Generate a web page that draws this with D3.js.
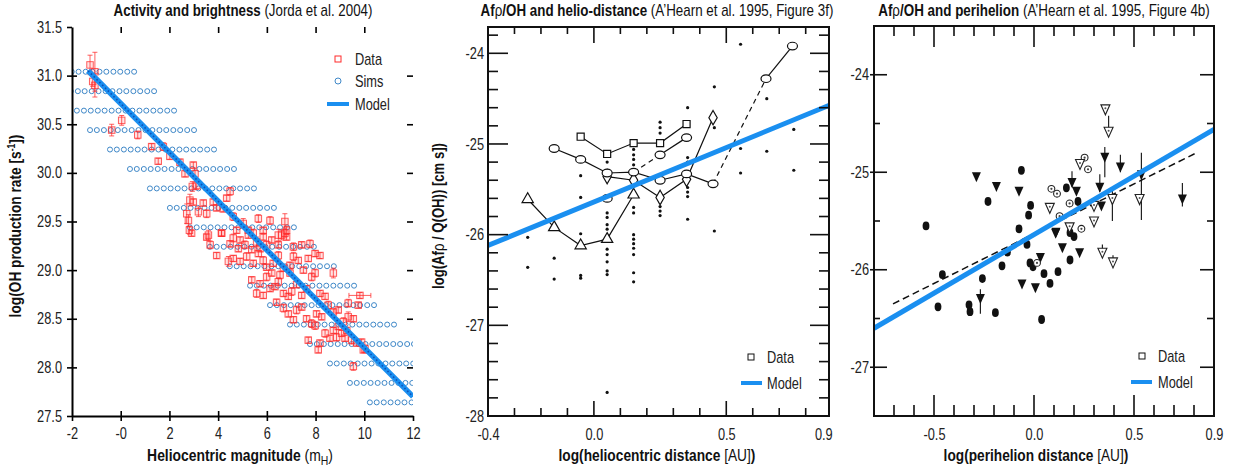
<!DOCTYPE html>
<html>
<head>
<meta charset="utf-8">
<script src="https://cdn.jsdelivr.net/npm/d3@7"></script>
<style>
  body { margin: 0; background: #fff; }
  svg { display: block; font-family: "Liberation Sans", Arial, sans-serif; }
  .tick text { font-size: 16px; fill: #222; }
</style>
</head>
<body>
<svg id="fig" width="1239" height="471"></svg>
<script>
// ---------------- Panel 1: OH production vs heliocentric magnitude ----------------
const magTicks = [-2, 0, 2, 4, 6, 8, 10, 12];
const logQTicks = [27.5, 28.0, 28.5, 29.0, 29.5, 30.0, 30.5, 31.0, 31.5];

// simulated grid: one row per log Q level, first magnitude of each row
const simLogQ = [31.04, 30.84, 30.64, 30.44, 30.24, 30.04, 29.84, 29.64, 29.44,
                 29.24, 29.04, 28.84, 28.64, 28.44, 28.24, 28.04, 27.84, 27.64];
const simStartMag = [-3.72, -2.90, -2.08, -1.26, -0.44, 0.38, 1.20, 2.02, 2.84,
                     3.66, 4.48, 5.31, 6.13, 6.95, 7.77, 8.59, 9.41, 10.23];
const simOffsets = [0, 0.28, 0.57, 0.85, 1.14, 1.42, 1.71, 1.99, 2.28, 2.56,
                    2.85, 3.13, 3.42, 3.70, 3.99, 4.27];

// observed comets: [magnitude, log Q(OH), error]
const ohData = [
  [-1.26,31.11,0.10],[-1.06,31.04,0.20],[-1.15,30.94,0.05],[-1.06,30.90,0.12],
  [-0.37,30.44,0.06],[0.04,30.54,0.05],[0.70,30.39,0.04],[1.27,30.27,0.03],
  [1.75,30.27,0.04],[1.54,30.12,0.03],[2.02,30.17,0.03],[2.43,30.11,0.03],
  [2.98,30.08,0.03],[3.05,29.99,0.04],[2.64,29.99,0.03],[2.94,29.86,0.05],
  [3.12,29.87,0.04],[2.84,29.72,0.06],[2.98,29.70,0.03],[3.39,29.69,0.03],
  [3.80,29.70,0.03],[4.49,29.81,0.04],[4.35,29.74,0.03],[3.53,29.58,0.04],
  [3.19,29.60,0.05],[2.71,29.58,0.10],[2.78,29.51,0.06],[3.94,29.64,0.03],
  [4.21,29.63,0.03],[4.62,29.55,0.04],[5.03,29.48,0.05],[5.24,29.41,0.03],
  [5.65,29.53,0.04],[6.13,29.51,0.04],[6.74,29.50,0.08],[6.81,29.41,0.04],
  [3.60,29.36,0.05],[4.14,29.38,0.03],[4.76,29.41,0.03],[5.44,29.38,0.04],
  [5.85,29.41,0.03],[6.47,29.36,0.06],
  [2.82,29.41,0.04],[2.91,29.38,0.03],[3.53,29.34,0.03],[3.67,29.26,0.04],
  [3.94,29.15,0.03],[4.14,29.38,0.03],[4.49,29.27,0.03],[4.62,29.33,0.04],
  [4.83,29.22,0.03],[4.90,29.31,0.03],[5.10,29.26,0.04],[5.24,29.36,0.03],
  [5.38,29.21,0.03],[5.58,29.29,0.05],[5.72,29.22,0.03],[5.85,29.34,0.03],
  [5.99,29.26,0.04],[6.20,29.31,0.03],[6.47,29.26,0.03],[6.61,29.36,0.05],
  [6.81,29.34,0.03],[7.09,29.24,0.04],[7.43,29.26,0.03],[7.77,29.27,0.04],
  [7.98,29.17,0.03],[8.18,29.15,0.03],[6.74,29.38,0.04],[4.42,29.09,0.05],
  [4.62,29.12,0.03],[4.90,29.09,0.03],[5.17,29.14,0.04],[5.44,29.07,0.03],
  [5.65,29.17,0.03],[5.85,29.10,0.04],[5.99,29.03,0.03],[6.26,29.07,0.03],
  [6.47,29.15,0.04],[6.68,29.02,0.03],[6.95,29.05,0.03],[7.09,29.14,0.04],
  [7.29,29.10,0.03],[7.50,29.00,0.03],[7.70,29.12,0.03],[7.98,28.97,0.04],
  [8.73,28.97,0.05],[5.38,28.90,0.03],[5.58,28.76,0.04],[5.72,28.86,0.03],
  [5.85,28.74,0.03],[5.99,28.93,0.04],[6.20,28.97,0.03],[6.33,28.83,0.03],
  [6.47,28.88,0.04],[6.68,28.76,0.03],[6.88,28.73,0.03],[7.02,28.78,0.04],
  [7.22,28.85,0.03],[7.43,28.74,0.03],[7.63,28.81,0.03],[7.84,28.93,0.04],
  [8.18,28.76,0.03],[8.39,28.73,0.03],[9.82,28.74,0.03],[6.95,28.97,0.03],
  [6.54,28.95,0.04],[6.13,28.81,0.03],[6.40,28.67,0.03],[6.68,28.61,0.04],
  [6.88,28.55,0.03],[7.09,28.49,0.03],[7.22,28.59,0.04],[7.43,28.62,0.03],
  [7.63,28.50,0.03],[7.84,28.45,0.04],[8.04,28.55,0.03],[8.25,28.52,0.03],
  [8.52,28.64,0.04],[8.73,28.57,0.03],[8.93,28.59,0.03],[9.14,28.47,0.04],
  [9.34,28.52,0.05],[9.55,28.50,0.03],[9.75,28.64,0.03],[9.34,28.66,0.04],
  [7.70,28.28,0.03],[7.98,28.43,0.04],[8.11,28.18,0.03],[8.18,28.25,0.03],
  [8.39,28.35,0.04],[8.59,28.30,0.03],[8.73,28.38,0.03],[8.86,28.31,0.04],
  [9.07,28.35,0.03],[9.28,28.38,0.03],[9.48,28.28,0.04],[9.69,28.25,0.03],
  [9.89,28.26,0.03],[10.03,28.19,0.04],[8.93,28.42,0.03],[9.21,28.30,0.03],
  [9.55,28.01,0.04],[9.96,28.18,0.03]
];
// points with a horizontal (magnitude) error bar: [magnitude, log Q, error]
const ohMagErr = [[9.82, 28.74, 0.45]];

const model1Mag = [-1.34, 12];
const model1LogQ = [31.05, 27.70];

// ---------------- Panel 2: Afrho/OH vs heliocentric distance ----------------
const rhLabelTicks = [-0.4, 0.0, 0.5, 0.9];
const rhMajor = [0.0, 0.5];
const rhMinor = [-0.3, -0.2, -0.1, 0.1, 0.2, 0.3, 0.4, 0.6, 0.7, 0.8];
const ratioTicks = [-24, -25, -26, -27, -28];
const ratioMinor = [-23.8, -24.2, -24.4, -24.6, -24.8, -25.2, -25.4, -25.6, -25.8,
                    -26.2, -26.4, -26.6, -26.8, -27.2, -27.4, -27.6, -27.8];

const sqRh = [-0.05, 0.05, 0.15, 0.25, 0.35];
const sqRatio = [-24.92, -25.11, -24.99, -24.99, -24.78];
const ringRh = [-0.15, -0.05, 0.05, 0.15, 0.25, 0.35, 0.45];
const ringRatio = [-25.05, -25.17, -25.32, -25.31, -25.40, -25.33, -25.44];
const ring2Rh = [0.15, 0.25, 0.35];
const ring2Ratio = [-25.31, -25.12, -24.93];
const ring3Rh = [0.45, 0.65, 0.75];
const ring3Ratio = [-25.44, -24.28, -23.92];
const loneRingRh = [0.05];
const loneRingRatio = [-25.60];
const diaRh = [0.05, 0.15, 0.25, 0.35, 0.45];
const diaRatio = [-25.36, -25.40, -25.59, -25.39, -24.71];
const triRh = [-0.25, -0.15, -0.05, 0.05, 0.15];
const triRatio = [-25.61, -25.92, -26.12, -26.05, -25.56];
// individual measurements
const dotRh = [0.554,0.455,0.354,0.653,0.455,0.755,0.653,0.554,0.554,0.755,
  0.25,0.25,0.25,0.354,0.354,0.15,0.15,0.15,0.15,0.05,
  -0.05,-0.05,-0.05,0.05,0.05,0.05,0.05,0.15,0.15,0.25,
  0.25,0.25,0.25,0.354,0.354,0.354,0.354,0.455,-0.25,-0.25,
  -0.15,-0.15,-0.05,-0.05,0.05,0.05,0.05,0.05,0.05,0.15,
  0.15,0.15,0.15,0.15,0.15,0.15,0.05];
const dotRatio = [-23.90,-24.37,-24.60,-24.50,-24.82,-24.84,-25.08,-25.05,-25.32,-25.29,
  -24.76,-24.82,-24.88,-25.15,-25.20,-25.06,-25.12,-25.17,-25.23,-25.20,
  -25.35,-25.59,-25.99,-25.76,-25.81,-25.89,-25.94,-25.70,-25.76,-25.64,
  -25.69,-25.74,-25.79,-25.48,-25.53,-25.58,-25.83,-25.96,-26.03,-26.36,
  -26.26,-26.49,-26.45,-26.48,-26.16,-26.22,-26.30,-26.40,-26.44,-26.00,
  -26.05,-26.10,-26.15,-26.22,-26.42,-26.52,-27.74];
const model2Rh = [-0.4, 0.9];
const model2Ratio = [-26.12, -24.56];

// ---------------- Panel 3: Afrho/OH vs perihelion distance ----------------
const qLabelTicks = [-0.5, 0.0, 0.5, 0.9];
const qMajor = [-0.5, 0.0, 0.5];
const qMinor = [-0.7, -0.6, -0.4, -0.3, -0.2, -0.1, 0.1, 0.2, 0.3, 0.4, 0.6, 0.7, 0.8];
const q3Ticks = [-24, -25, -26, -27];
const q3Minor = [-24.5, -25.5, -26.5];

const fillDotQ = [-0.54,-0.063,-0.23,-0.017,-0.027,-0.075,0.162,0.22,0.18,0.20,
  -0.458,-0.48,-0.325,-0.32,-0.193,-0.258,-0.16,-0.133,-0.035,-0.02,
  -0.005,0.05,0.08,0.12,0.18,0.038];
const fillDotRatio = [-25.55,-24.98,-25.30,-25.34,-25.44,-25.58,-25.16,-25.30,-25.62,-25.66,
  -26.05,-26.38,-26.36,-26.43,-26.44,-26.09,-25.96,-25.82,-25.74,-25.93,
  -25.97,-26.04,-26.14,-26.02,-25.90,-26.51];
const fillTriQ = [-0.288,-0.188,-0.075,0.19,0.212,0.354,0.432,0.329,0.337,0.108,
  0.742,0.537,-0.268,-0.06,0.007,0.032,0.142,0.228,0.11];
const fillTriRatio = [-25.05,-25.15,-25.20,-25.11,-25.20,-24.85,-24.95,-25.16,-25.35,-25.63,
  -25.28,-25.03,-26.30,-26.15,-26.19,-25.88,-25.78,-25.83,-25.62];
const openDotQ = [0.087,0.115,0.253,0.27,0.178,0.237,0.128,0.015];
const openDotRatio = [-25.17,-25.22,-24.85,-24.97,-25.32,-25.58,-25.45,-25.93];
const openTriQ = [0.357,0.373,0.23,0.079,0.30,0.30,0.392,0.528,0.178,0.342,0.395];
const openTriRatio = [-24.36,-24.59,-24.92,-25.37,-25.35,-25.51,-25.28,-25.28,-25.57,-25.83,-25.93];
// vertical bars: [q, top, bottom]
const q3Bars = [[0.354,-24.74,-25.05],[0.432,-24.82,-25.00],[0.19,-24.99,-25.15],
  [0.329,-25.02,-25.20],[0.392,-25.15,-25.50],[0.537,-24.80,-25.49],
  [0.742,-25.11,-25.35],[0.373,-24.42,-24.60],[-0.268,-26.20,-26.45],
  [0.342,-25.74,-25.85],[0.395,-25.85,-25.95]];
const fitQ = [-0.705, 0.803];
const fitRatio = [-26.35, -24.81];
const model3Q = [-0.8, 0.9];
const model3Ratio = [-26.60, -24.56];

// ---------------- drawing ----------------
const svg = d3.select('#fig');
const BLUE = '#1a8ff0';
const pairs = (xs, ys) => xs.map((v, i) => [v, ys[i]]);
const plain = d => String(d);
const fixed1 = d => d.toFixed(1);

function title(x, width, parts, restPart) {
  const t = svg.append('text').attr('x', x).attr('y', 16).attr('data-w', width)
    .attr('text-anchor', 'middle').attr('font-size', 16).attr('fill', '#111');
  parts.forEach(p => t.append('tspan').attr('font-weight', p[1] ? 'bold' : 'normal').text(p[0]));
  t.append('tspan').attr('font-weight', 'normal').text(restPart);
}

function styleAxis(g, width) {
  g.selectAll('path').attr('stroke', '#000').attr('stroke-width', width);
  g.selectAll('line').attr('stroke', '#000').attr('stroke-width', 1.6);
}

// ===== Panel 1 =====
const xm = d3.scaleLinear().domain([-2, 12]).range([72, 413]);
const yq = d3.scaleLinear().domain([27.5, 31.5]).range([416, 27]);

svg.append('clipPath').attr('id', 'clip1').append('rect')
  .attr('x', 72).attr('y', 27).attr('width', 341).attr('height', 389);

const p1 = svg.append('g').attr('clip-path', 'url(#clip1)');

// simulated grid
const sims = [];
simLogQ.forEach((q, i) => simOffsets.forEach(o => sims.push([simStartMag[i] + o, q])));
p1.append('g').selectAll('circle').data(sims).join('circle')
  .attr('cx', d => xm(d[0])).attr('cy', d => yq(d[1])).attr('r', 2.5)
  .attr('fill', 'none').attr('stroke', '#3f88c8').attr('stroke-width', 1);

// observations with error bars
const obs = p1.append('g').attr('stroke', '#ff2a2a').attr('stroke-opacity', 0.75).attr('fill', 'none');
obs.selectAll('path.err').data(ohData).join('path').attr('class', 'err')
  .attr('stroke-width', 1)
  .attr('d', d => {
    const x = xm(d[0]), y0 = yq(d[1] - d[2]), y1 = yq(d[1] + d[2]);
    return `M${x},${y0}V${y1}M${x - 2.5},${y0}H${x + 2.5}M${x - 2.5},${y1}H${x + 2.5}`;
  });
obs.selectAll('path.xerr').data(ohMagErr).join('path').attr('class', 'xerr')
  .attr('stroke-width', 1)
  .attr('d', d => {
    const y = yq(d[1]), x0 = xm(d[0] - d[2]), x1 = xm(d[0] + d[2]);
    return `M${x0},${y}H${x1}M${x0},${y - 2.5}V${y + 2.5}M${x1},${y - 2.5}V${y + 2.5}`;
  });
obs.selectAll('rect').data(ohData).join('rect')
  .attr('x', d => xm(d[0]) - 3.25).attr('y', d => yq(d[1]) - 3.25)
  .attr('width', 6.5).attr('height', 6.5).attr('stroke-width', 1)
  .attr('fill', 'rgba(255,60,60,0.14)');

// model
const line1 = d3.line().x(d => xm(d[0])).y(d => yq(d[1]));
p1.append('path').datum(pairs(model1Mag, model1LogQ)).attr('d', line1)
  .attr('stroke', BLUE).attr('stroke-width', 5.5).attr('fill', 'none');
p1.append('path').datum(pairs(model1Mag, model1LogQ)).attr('d', line1)
  .attr('stroke', '#0b3fa8').attr('stroke-width', 1.6).attr('stroke-dasharray', '1.5,2.5')
  .attr('fill', 'none').attr('opacity', 0.8);

// axes
const fmtMag = d => d === 0 ? '-0' : String(d);
const ax1b = svg.append('g').attr('transform', 'translate(0,416)')
  .call(d3.axisBottom(xm).tickValues(magTicks).tickFormat(fmtMag).tickSize(5).tickSizeOuter(0).tickPadding(7));
styleAxis(ax1b, 2);
svg.append('g').attr('transform', 'translate(0,416)')
  .call(d3.axisBottom(xm).tickValues(magTicks.slice(1, -1)).tickFormat('').tickSize(-5).tickSizeOuter(0))
  .call(g => { g.select('path').remove(); styleAxis(g, 2); });
const ax1l = svg.append('g').attr('transform', 'translate(72,0)')
  .call(d3.axisLeft(yq).tickValues(logQTicks).tickFormat(fixed1).tickSize(5).tickSizeOuter(0).tickPadding(5));
styleAxis(ax1l, 2);
svg.append('g').attr('transform', 'translate(72,0)')
  .call(d3.axisLeft(yq).tickValues(logQTicks.slice(1, -1)).tickFormat('').tickSize(-5).tickSizeOuter(0))
  .call(g => { g.select('path').remove(); styleAxis(g, 2); });
svg.append('g').attr('transform', 'translate(0,27)')
  .call(d3.axisTop(xm).tickValues(magTicks.slice(1, -1)).tickFormat('').tickSize(-6).tickSizeOuter(0))
  .call(g => { g.select('path').remove(); styleAxis(g, 2); });
svg.append('g').attr('transform', 'translate(413,0)')
  .call(d3.axisRight(yq).tickValues(logQTicks.slice(1, -1)).tickFormat('').tickSize(-6).tickSizeOuter(0))
  .call(g => { g.select('path').remove(); styleAxis(g, 2); });

// legend
svg.append('rect').attr('x', 335).attr('y', 56).attr('width', 6).attr('height', 6)
  .attr('fill', 'none').attr('stroke', '#ff2a2a').attr('stroke-width', 1);
svg.append('circle').attr('cx', 338).attr('cy', 81).attr('r', 3)
  .attr('fill', 'none').attr('stroke', '#3f88c8').attr('stroke-width', 1);
svg.append('line').attr('x1', 327).attr('x2', 349).attr('y1', 104).attr('y2', 104)
  .attr('stroke', BLUE).attr('stroke-width', 4);
[['Data', 65], ['Sims', 87], ['Model', 110]].forEach(([t, y]) =>
  svg.append('text').attr('x', 355).attr('y', y).attr('font-size', 16).attr('fill', '#222').text(t));

title(243, 259, [['Activity and brightness', true]], ' (Jorda et al. 2004)');

const xl1 = svg.append('text').attr('x', 240).attr('y', 461).attr('text-anchor', 'middle')
  .attr('data-w', 186).attr('font-size', 16).attr('fill', '#111');
xl1.append('tspan').attr('font-weight', 'bold').text('Heliocentric magnitude');
xl1.append('tspan').text(' (m');
xl1.append('tspan').attr('font-size', 12).attr('dy', 4).text('H');
xl1.append('tspan').attr('dy', -4).text(')');

const yl1 = svg.append('text').attr('transform', 'translate(21,226) rotate(-90)')
  .attr('data-w', 183).attr('text-anchor', 'middle').attr('font-size', 16).attr('font-weight', 'bold').attr('fill', '#111');
yl1.append('tspan').text('log(OH production rate [s');
yl1.append('tspan').attr('font-size', 10).attr('dy', -6).text('-1');
yl1.append('tspan').attr('dy', 6).text('])');

// ===== Panel 2 =====
const xr = d3.scaleLinear().domain([-0.4, 0.888]).range([488, 829]);
const yr = d3.scaleLinear().domain([-28, -23.71]).range([416, 27]);

svg.append('clipPath').attr('id', 'clip2').append('rect')
  .attr('x', 488).attr('y', 27).attr('width', 341).attr('height', 389);
const p2 = svg.append('g').attr('clip-path', 'url(#clip2)');

p2.append('g').selectAll('circle').data(pairs(dotRh, dotRatio)).join('circle')
  .attr('cx', d => xr(d[0])).attr('cy', d => yr(d[1])).attr('r', 1.6).attr('fill', '#111');

const line2 = d3.line().x(d => xr(d[0])).y(d => yr(d[1]));
const seg = (xs, ys, dash) => p2.append('path').datum(pairs(xs, ys)).attr('d', line2)
  .attr('fill', 'none').attr('stroke', '#111').attr('stroke-width', 1.2)
  .attr('stroke-dasharray', dash ? '5,4' : null);
seg(sqRh, sqRatio, false);
seg(ringRh, ringRatio, false);
seg(ring2Rh.slice(0, 2), ring2Ratio.slice(0, 2), true);
seg(ring2Rh.slice(1), ring2Ratio.slice(1), false);
seg(ring3Rh.slice(0, 2), ring3Ratio.slice(0, 2), true);
seg(ring3Rh.slice(1), ring3Ratio.slice(1), false);
seg(diaRh, diaRatio, false);
seg(triRh, triRatio, false);

const mk = (xs, ys, type, size) => p2.append('g').selectAll('path').data(pairs(xs, ys)).join('path')
  .attr('transform', d => `translate(${xr(d[0])},${yr(d[1])})`)
  .attr('d', d3.symbol().type(type).size(size))
  .attr('fill', '#fff').attr('stroke', '#111').attr('stroke-width', 1.2);
const ellipses = (xs, ys) => p2.append('g').selectAll('ellipse').data(pairs(xs, ys)).join('ellipse')
  .attr('cx', d => xr(d[0])).attr('cy', d => yr(d[1])).attr('rx', 5).attr('ry', 3.8)
  .attr('fill', '#fff').attr('stroke', '#111').attr('stroke-width', 1.2);
mk(diaRh, diaRatio, d3.symbolDiamond, 60);
mk(triRh, triRatio, d3.symbolTriangle, 55);
ellipses(ringRh, ringRatio);
ellipses(ring2Rh.slice(1), ring2Ratio.slice(1));
ellipses(ring3Rh.slice(1), ring3Ratio.slice(1));
ellipses(loneRingRh, loneRingRatio);
mk(sqRh, sqRatio, d3.symbolSquare, 50);

p2.append('path').datum(pairs(model2Rh, model2Ratio)).attr('d', line2)
  .attr('stroke', BLUE).attr('stroke-width', 5).attr('fill', 'none');

// frame and ticks
svg.append('rect').attr('x', 488).attr('y', 27).attr('width', 341).attr('height', 389)
  .attr('fill', 'none').attr('stroke', '#111').attr('stroke-width', 2);
const tickG2 = svg.append('g').attr('stroke', '#111').attr('stroke-width', 1.6);
rhMinor.forEach(v => {
  tickG2.append('line').attr('x1', xr(v)).attr('x2', xr(v)).attr('y1', 416).attr('y2', 408);
  tickG2.append('line').attr('x1', xr(v)).attr('x2', xr(v)).attr('y1', 27).attr('y2', 34);
});
rhMajor.forEach(v => {
  tickG2.append('line').attr('x1', xr(v)).attr('x2', xr(v)).attr('y1', 416).attr('y2', 401);
  tickG2.append('line').attr('x1', xr(v)).attr('x2', xr(v)).attr('y1', 27).attr('y2', 43);
});
ratioTicks.forEach(v => {
  tickG2.append('line').attr('x1', 488).attr('x2', 508).attr('y1', yr(v)).attr('y2', yr(v));
  tickG2.append('line').attr('x1', 829).attr('x2', 810).attr('y1', yr(v)).attr('y2', yr(v));
});
ratioMinor.forEach(v => {
  tickG2.append('line').attr('x1', 488).attr('x2', 498).attr('y1', yr(v)).attr('y2', yr(v));
  tickG2.append('line').attr('x1', 829).attr('x2', 819).attr('y1', yr(v)).attr('y2', yr(v));
});
const ax2b = svg.append('g').attr('transform', 'translate(0,416)')
  .call(d3.axisBottom(xr).tickValues(rhLabelTicks).tickFormat(fixed1).tickSize(0).tickPadding(13));
ax2b.select('path').remove();
ax2b.selectAll('.tick').filter(d => d === 0.9).select('text').attr('text-anchor', 'end');
const ax2l = svg.append('g').attr('transform', 'translate(488,0)')
  .call(d3.axisLeft(yr).tickValues(ratioTicks).tickFormat(plain).tickSize(0).tickPadding(4));
ax2l.select('path').remove();

// legend
svg.append('rect').attr('x', 748).attr('y', 354).attr('width', 6).attr('height', 6)
  .attr('fill', 'none').attr('stroke', '#111').attr('stroke-width', 1);
svg.append('line').attr('x1', 741).attr('x2', 762).attr('y1', 383).attr('y2', 383)
  .attr('stroke', BLUE).attr('stroke-width', 4);
svg.append('text').attr('x', 767).attr('y', 363).attr('font-size', 16).attr('fill', '#222').text('Data');
svg.append('text').attr('x', 767).attr('y', 389).attr('font-size', 16).attr('fill', '#222').text('Model');

title(657, 353, [['Af', true], ['ρ', false], ['/OH and helio-distance', true]], ' (A\u2019Hearn et al. 1995, Figure 3f)');

const xl2 = svg.append('text').attr('x', 657).attr('y', 461).attr('text-anchor', 'middle')
  .attr('data-w', 197).attr('font-size', 16).attr('fill', '#111');
xl2.append('tspan').attr('font-weight', 'bold').text('log(heliocentric distance ');
xl2.append('tspan').text('[AU]');
xl2.append('tspan').attr('font-weight', 'bold').text(')');

const yl2 = svg.append('text').attr('transform', 'translate(444,216) rotate(-90)')
  .attr('data-w', 146).attr('text-anchor', 'middle').attr('font-size', 16).attr('font-weight', 'bold').attr('fill', '#111');
yl2.append('tspan').text('log(Af');
yl2.append('tspan').attr('font-weight', 'normal').text('ρ');
yl2.append('tspan').text(' / Q(OH)) [cm s])');

// ===== Panel 3 =====
const xp = d3.scaleLinear().domain([-0.8, 0.9]).range([874, 1214]);
const yp = d3.scaleLinear().domain([-27.5, -23.5]).range([416, 26]);

svg.append('clipPath').attr('id', 'clip3').append('rect')
  .attr('x', 874).attr('y', 26).attr('width', 340).attr('height', 390);
const p3 = svg.append('g').attr('clip-path', 'url(#clip3)');

p3.append('g').selectAll('line').data(q3Bars).join('line')
  .attr('x1', d => xp(d[0])).attr('x2', d => xp(d[0]))
  .attr('y1', d => yp(d[1])).attr('y2', d => yp(d[2]))
  .attr('stroke', '#222').attr('stroke-width', 1.2);

const line3 = d3.line().x(d => xp(d[0])).y(d => yp(d[1]));
p3.append('path').datum(pairs(fitQ, fitRatio)).attr('d', line3)
  .attr('stroke', '#111').attr('stroke-width', 1.5).attr('stroke-dasharray', '7,4').attr('fill', 'none');

p3.append('g').selectAll('ellipse').data(pairs(fillDotQ, fillDotRatio)).join('ellipse')
  .attr('cx', d => xp(d[0])).attr('cy', d => yp(d[1])).attr('rx', 3.4).attr('ry', 4.4).attr('fill', '#111');
const downTri = (w, h) => `M${-w / 2},${-h / 2}L${w / 2},${-h / 2}L0,${h / 2}Z`;
p3.append('g').selectAll('path').data(pairs(fillTriQ, fillTriRatio)).join('path')
  .attr('transform', d => `translate(${xp(d[0])},${yp(d[1])})`)
  .attr('d', downTri(9, 10)).attr('fill', '#111');
const od = p3.append('g').selectAll('g').data(pairs(openDotQ, openDotRatio)).join('g')
  .attr('transform', d => `translate(${xp(d[0])},${yp(d[1])})`);
od.append('circle').attr('r', 3.4).attr('fill', '#fff').attr('stroke', '#222').attr('stroke-width', 1.1);
od.append('circle').attr('r', 1.1).attr('fill', '#444');
const ot = p3.append('g').selectAll('g').data(pairs(openTriQ, openTriRatio)).join('g')
  .attr('transform', d => `translate(${xp(d[0])},${yp(d[1])})`);
ot.append('path').attr('d', downTri(9, 10)).attr('fill', '#fff').attr('stroke', '#222').attr('stroke-width', 1.1);
ot.append('circle').attr('cy', -1.5).attr('r', 1).attr('fill', '#555');

p3.append('path').datum(pairs(model3Q, model3Ratio)).attr('d', line3)
  .attr('stroke', BLUE).attr('stroke-width', 5).attr('fill', 'none');

svg.append('rect').attr('x', 874).attr('y', 26).attr('width', 340).attr('height', 390)
  .attr('fill', 'none').attr('stroke', '#111').attr('stroke-width', 2);
const tickG3 = svg.append('g').attr('stroke', '#111').attr('stroke-width', 1.6);
qMinor.forEach(v => {
  tickG3.append('line').attr('x1', xp(v)).attr('x2', xp(v)).attr('y1', 416).attr('y2', 405);
  tickG3.append('line').attr('x1', xp(v)).attr('x2', xp(v)).attr('y1', 26).attr('y2', 36);
});
qMajor.forEach(v => {
  tickG3.append('line').attr('x1', xp(v)).attr('x2', xp(v)).attr('y1', 416).attr('y2', 395);
  tickG3.append('line').attr('x1', xp(v)).attr('x2', xp(v)).attr('y1', 26).attr('y2', 47);
});
q3Ticks.forEach(v => {
  tickG3.append('line').attr('x1', 870).attr('x2', 887).attr('y1', yp(v)).attr('y2', yp(v));
  tickG3.append('line').attr('x1', 1214).attr('x2', 1200).attr('y1', yp(v)).attr('y2', yp(v));
});
q3Minor.forEach(v => {
  tickG3.append('line').attr('x1', 874).attr('x2', 880).attr('y1', yp(v)).attr('y2', yp(v));
  tickG3.append('line').attr('x1', 1214).attr('x2', 1207).attr('y1', yp(v)).attr('y2', yp(v));
});
const ax3b = svg.append('g').attr('transform', 'translate(0,416)')
  .call(d3.axisBottom(xp).tickValues(qLabelTicks).tickFormat(fixed1).tickSize(0).tickPadding(13));
ax3b.select('path').remove();
const ax3l = svg.append('g').attr('transform', 'translate(870,0)')
  .call(d3.axisLeft(yp).tickValues(q3Ticks).tickFormat(plain).tickSize(0).tickPadding(1));
ax3l.select('path').remove();

svg.append('rect').attr('x', 1139).attr('y', 353).attr('width', 6).attr('height', 6)
  .attr('fill', 'none').attr('stroke', '#111').attr('stroke-width', 1);
svg.append('line').attr('x1', 1131).attr('x2', 1152).attr('y1', 382).attr('y2', 382)
  .attr('stroke', BLUE).attr('stroke-width', 4);
svg.append('text').attr('x', 1158).attr('y', 362).attr('font-size', 16).attr('fill', '#222').text('Data');
svg.append('text').attr('x', 1158).attr('y', 388).attr('font-size', 16).attr('fill', '#222').text('Model');

title(1044, 332, [['Af', true], ['ρ', false], ['/OH and perihelion', true]], ' (A\u2019Hearn et al. 1995, Figure 4b)');

const xl3 = svg.append('text').attr('x', 1036).attr('y', 461).attr('text-anchor', 'middle')
  .attr('data-w', 185).attr('font-size', 16).attr('fill', '#111');
xl3.append('tspan').attr('font-weight', 'bold').text('log(perihelion distance ');
xl3.append('tspan').text('[AU]');
xl3.append('tspan').attr('font-weight', 'bold').text(')');

// narrow every label horizontally (about its anchor) to the condensed widths used in the figure
svg.selectAll('text').each(function () {
  const el = d3.select(this);
  const natural = this.getComputedTextLength();
  const s = el.attr('data-w') ? +el.attr('data-w') / natural : 0.8;
  const ax = +(el.attr('x') || 0);
  const prev = el.attr('transform') || '';
  el.attr('transform', `${prev} matrix(${s},0,0,1,${ax * (1 - s)},0)`.trim());
});
</script>
</body>
</html>
